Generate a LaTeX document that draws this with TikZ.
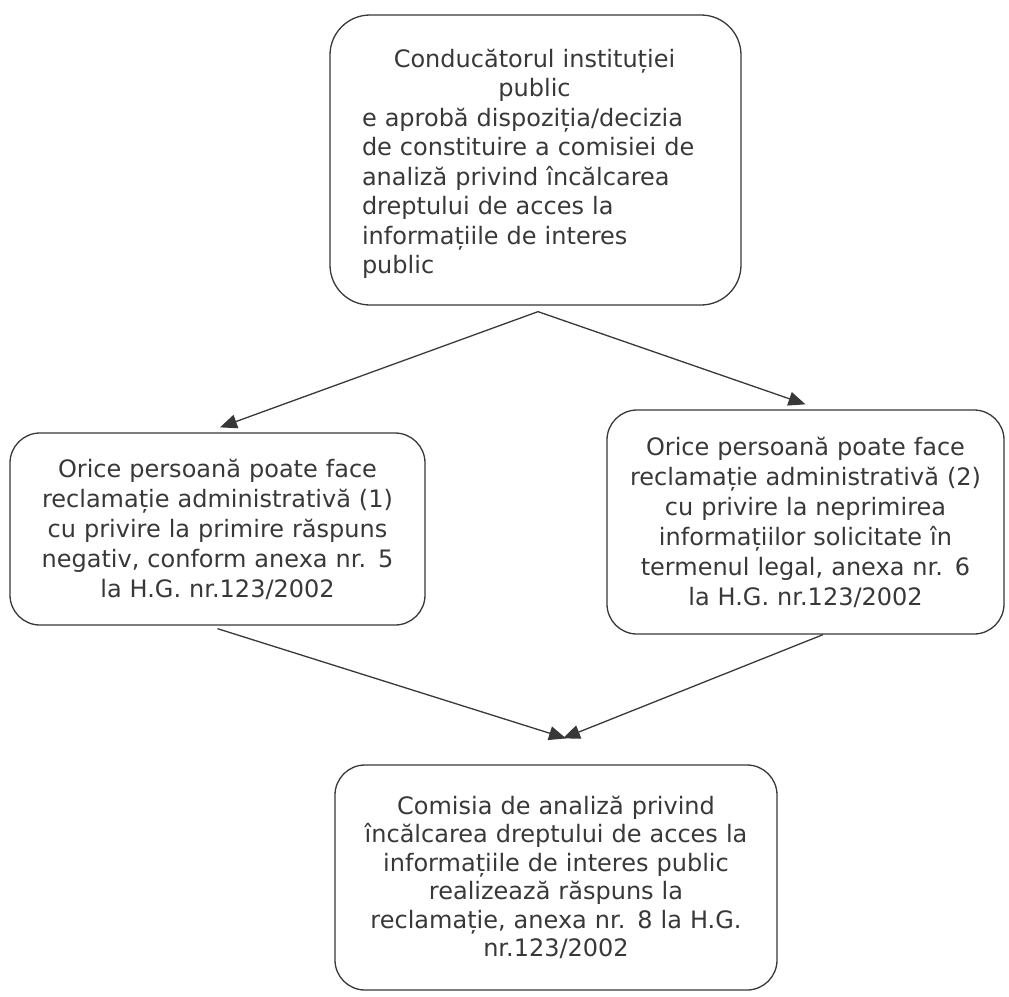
\documentclass[tikz,border=0pt]{standalone}
\usepackage{fontspec}
\setmainfont{DejaVu Sans}
\usetikzlibrary{arrows.meta}
\definecolor{ink}{gray}{0.22}
\begin{document}
\begin{tikzpicture}[x=1pt,y=-1pt,
  box/.style={draw=ink, line width=1.3pt, rounded corners=30pt, inner sep=0pt},
  txt/.style={text=ink, font=\fontsize{24}{30}\selectfont, inner sep=0pt},
  conn/.style={draw=ink, line width=1.3pt, -{Triangle[length=17pt,width=14pt]}}
]
\useasboundingbox (0,0) rectangle (1009,996);

\node[box, rounded corners=40pt, minimum width=411pt, minimum height=290pt] (top) at (535.5,160) {};
\node[txt, font=\fontsize{24}{29.5}\selectfont, text width=345pt, anchor=center] (toptext) at (534.5,164) {%
{\centering Conducătorul instituției\\ public\par}
\raggedright e aprobă dispoziția/decizia\\ de constituire a comisiei de\\ analiză privind încălcarea\\ dreptului de acces la\\ informațiile de interes\\ public};

\node[box, txt, minimum width=415pt, minimum height=192pt, text width=400pt, align=center] (left) at (217.5,529)
{Orice persoană poate face\\ reclamație administrativă (1)\\ cu privire la primire răspuns\\ negativ, conform anexa nr. 5\\ la H.G. nr.123/2002};

\node[box, txt, minimum width=397pt, minimum height=224pt, text width=390pt, align=center] (right) at (805.5,522)
{Orice persoană poate face\\ reclamație administrativă (2)\\ cu privire la neprimirea\\ informațiilor solicitate în\\ termenul legal, anexa nr. 6\\ la H.G. nr.123/2002};

\node[box, txt, font=\fontsize{24}{28.5}\selectfont, minimum width=442pt, minimum height=225pt, text width=430pt, align=center] (bottom) at (556,877.5)
{Comisia de analiză privind\\ încălcarea dreptului de acces la\\ informațiile de interes public\\ realizează răspuns la\\ reclamație, anexa nr. 8 la H.G.\\ nr.123/2002};

\draw[conn] ([xshift=2.5pt,yshift=-6pt]top.south) -- ([xshift=2.5pt,yshift=5pt]left.north);
\draw[conn] ([xshift=2.5pt,yshift=-6pt]top.south) -- ([yshift=5pt]right.north);
\draw[conn] ([yshift=-3pt]left.south) -- ([xshift=10pt,yshift=26pt]bottom.north);
\draw[conn] ([xshift=17.5pt]right.south) -- ([xshift=7pt,yshift=26pt]bottom.north);
\end{tikzpicture}
\end{document}
